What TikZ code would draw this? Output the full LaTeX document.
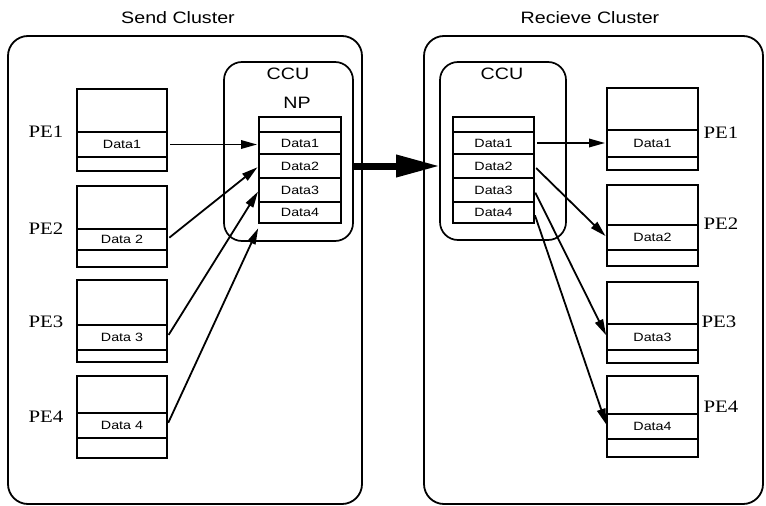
\documentclass[tikz,border=0pt]{standalone}
\usepackage{fontspec}
\setmainfont{Liberation Serif}
\newfontfamily\hsans[FakeStretch=1.19]{Liberation Sans}
\newfontfamily\hserif[FakeStretch=1.19]{Liberation Serif}
\usetikzlibrary{arrows.meta,calc}
\begin{document}
\begin{tikzpicture}[x=1pt,y=-1pt,
  every node/.style={inner sep=0pt, outer sep=0pt},
  cluster/.style={draw, line width=1.8pt, rounded corners=20pt, anchor=north west},
  ccubox/.style={draw, line width=1.7pt, rounded corners=18pt, anchor=north west},
  cellbox/.style={draw, line width=1.5pt, anchor=north west, font=\hsans\fontsize{12}{13}\selectfont},
  title/.style={font=\hsans\fontsize{16.5}{18}\selectfont},
  pelabel/.style={font=\hserif\fontsize{17.5}{19}\selectfont},
  arr/.style={line width=1.8pt, -{Triangle[length=16pt,width=8.5pt]}, shorten >=2pt, shorten <=3pt},
  bigarr/.style={line width=7pt, -{Triangle[length=44pt,width=21pt]}}
]
\useasboundingbox (0,0) rectangle (766,506);

% clusters
\node[cluster, minimum width=354pt, minimum height=468pt] (lcl) at (8,36) {};
\node[cluster, minimum width=339pt, minimum height=468pt] (rcl) at (424,36) {};
\node[title] (lt) at (178,18) {Send Cluster};
\node[title] (rt) at (590,18) {Recieve Cluster};

% CCUs
\node[ccubox, minimum width=129pt, minimum height=179pt] (lccu) at (224,62) {};
\node[ccubox, minimum width=126pt, minimum height=178pt] (rccu) at (440,62) {};
\node[title] (lccut) at (288,74) {CCU};
\node[title] (lnpt) at (297,103) {NP};
\node[title] (rccut) at (502,74) {CCU};

% left NP stack
\node[cellbox, minimum width=82pt, minimum height=15pt] (lnp0) at (259,117) {};
\node[cellbox, minimum width=82pt, minimum height=22pt] (lnp1) at (259,132) {Data1};
\node[cellbox, minimum width=82pt, minimum height=24pt] (lnp2) at (259,154) {Data2};
\node[cellbox, minimum width=82pt, minimum height=24pt] (lnp3) at (259,178) {Data3};
\node[cellbox, minimum width=82pt, minimum height=21pt] (lnp4) at (259,202) {Data4};

% right NP stack
\node[cellbox, minimum width=81pt, minimum height=15pt] (rnp0) at (453,117) {};
\node[cellbox, minimum width=81pt, minimum height=22pt] (rnp1) at (453,132) {Data1};
\node[cellbox, minimum width=81pt, minimum height=24pt] (rnp2) at (453,154) {Data2};
\node[cellbox, minimum width=81pt, minimum height=24pt] (rnp3) at (453,178) {Data3};
\node[cellbox, minimum width=81pt, minimum height=21pt] (rnp4) at (453,202) {Data4};

% left PEs
\node[cellbox, minimum width=90pt, minimum height=82pt] (lpe1) at (77,89) {};
\node[cellbox, minimum width=90pt, minimum height=25pt] (ld1) at (77,132) {Data1};
\node[cellbox, minimum width=90pt, minimum height=81pt] (lpe2) at (77,186) {};
\node[cellbox, minimum width=90pt, minimum height=21pt] (ld2) at (77,229) {Data 2};
\node[cellbox, minimum width=90pt, minimum height=82pt] (lpe3) at (77,280) {};
\node[cellbox, minimum width=90pt, minimum height=25pt] (ld3) at (77,325) {Data 3};
\node[cellbox, minimum width=90pt, minimum height=82pt] (lpe4) at (77,376) {};
\node[cellbox, minimum width=90pt, minimum height=25pt] (ld4) at (77,413) {Data 4};
\node[pelabel] (lpl1) at (46,132) {PE1};
\node[pelabel] (lpl2) at (46,229) {PE2};
\node[pelabel] (lpl3) at (46,322) {PE3};
\node[pelabel] (lpl4) at (46,417) {PE4};

% right PEs
\node[cellbox, minimum width=91pt, minimum height=82pt] (rpe1) at (607,88) {};
\node[cellbox, minimum width=91pt, minimum height=27pt] (rd1) at (607,130) {Data1};
\node[cellbox, minimum width=91pt, minimum height=81pt] (rpe2) at (607,185) {};
\node[cellbox, minimum width=91pt, minimum height=25pt] (rd2) at (607,225) {Data2};
\node[cellbox, minimum width=91pt, minimum height=81pt] (rpe3) at (607,282) {};
\node[cellbox, minimum width=91pt, minimum height=26pt] (rd3) at (607,324) {Data3};
\node[cellbox, minimum width=91pt, minimum height=81pt] (rpe4) at (607,376) {};
\node[cellbox, minimum width=91pt, minimum height=25pt] (rd4) at (607,414) {Data4};
\node[pelabel] (rpl1) at (721,133) {PE1};
\node[pelabel] (rpl2) at (721,224) {PE2};
\node[pelabel] (rpl3) at (719,322) {PE3};
\node[pelabel] (rpl4) at (721,407) {PE4};

% send arrows
\coordinate (lnp4tip) at ($(lnp4.west)+(0,14)$);
\draw[arr] (ld1.east) -- (ld1.east -| lnp1.west);
\draw[arr] (ld2.east) -- (lnp2.west);
\draw[arr] (ld3.east) -- (lnp3.west);
\draw[arr] (ld4.east) -- (lnp4tip);

% transfer arrow
\draw[bigarr] (lccu.east |- lnp2.west) -- (rccu.west |- lnp2.west);

% receive arrows
\draw[arr] (rnp1.east) -- (rnp1.east -| rd1.west);
\draw[arr] (rnp2.east) -- (rd2.west);
\draw[arr] (rnp3.east) -- (rd3.west);
\draw[arr] (rnp4.east) -- (rd4.west);
\end{tikzpicture}
\end{document}
